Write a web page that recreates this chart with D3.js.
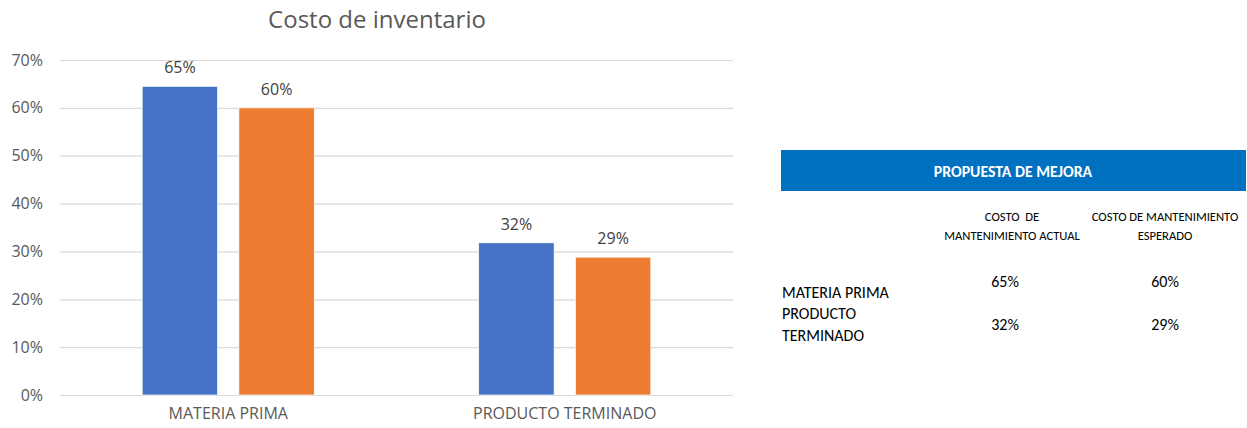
<!DOCTYPE html>
<html>
<head>
<meta charset="utf-8">
<script src="https://cdn.jsdelivr.net/npm/d3@7"></script>
<style>
  body { margin: 0; background: #fff; }
  svg { display: block; }
</style>
</head>
<body>
<svg id="chart" width="1247" height="428"></svg>
<script>
// chart data
var categories = ["MATERIA PRIMA", "PRODUCTO TERMINADO"];
var seriesNames = ["COSTO DE MANTENIMIENTO ACTUAL", "COSTO DE MANTENIMIENTO ESPERADO"];
var actual = [0.645, 0.318];
var esperado = [0.60, 0.288];
var yTicks = [0, 0.1, 0.2, 0.3, 0.4, 0.5, 0.6, 0.7];

// table text
var tableTitle = "PROPUESTA DE MEJORA";
var colHeaders = [["COSTO  DE", "MANTENIMIENTO ACTUAL"], ["COSTO DE MANTENIMIENTO", "ESPERADO"]];
var rowLabels = [["MATERIA PRIMA"], ["PRODUCTO", "TERMINADO"]];
var actualLabels = ["65%", "32%"];
var esperadoLabels = ["60%", "29%"];

var colors = ["#4472C4", "#ED7D31"];
var textColor = "#595959";
var font = "'Open Sans', sans-serif";
var tfont = "Carlito, Calibri, Lato, sans-serif";

var svg = d3.select("#chart");

var plot = { left: 60, right: 733, top: 60, bottom: 395 };

var x0 = d3.scaleBand().domain(categories).range([plot.left, plot.right]);
var x1 = d3.scaleBand().domain([0, 1]).range([0, x0.bandwidth()]).paddingInner(0.22).paddingOuter(0.85);
var y = d3.scaleLinear().domain([0, 0.7]).range([plot.bottom, plot.top]);

// title
svg.append("text")
  .attr("x", 377).attr("y", 28)
  .attr("text-anchor", "middle")
  .attr("font-family", font).attr("font-size", 24)
  .attr("fill", textColor)
  .text("Costo de inventario");

// gridlines
svg.append("g").selectAll("line").data(yTicks).enter().append("line")
  .attr("x1", plot.left).attr("x2", plot.right)
  .attr("y1", function (d) { return y(d) + 0.5; })
  .attr("y2", function (d) { return y(d) + 0.5; })
  .attr("stroke", "#D9D9D9").attr("stroke-width", 1.2);

// y axis
var yAxis = d3.axisLeft(y).tickValues(yTicks).tickFormat(d3.format(".0%")).tickSize(0).tickPadding(0);
var yg = svg.append("g").attr("transform", "translate(43,0)").call(yAxis);
yg.select(".domain").remove();
yg.selectAll("text").attr("font-family", font).attr("font-size", 16).attr("fill", textColor);

// x axis labels
var xAxis = d3.axisBottom(x0).tickSize(0).tickPadding(0);
var xg = svg.append("g").attr("transform", "translate(0,408)").call(xAxis);
xg.select(".domain").remove();
xg.selectAll("text").attr("font-family", font).attr("font-size", 16).attr("fill", textColor);

// bars
var rows = categories.map(function (c, i) { return { cat: c, vals: [actual[i], esperado[i]], labels: [actualLabels[i], esperadoLabels[i]] }; });

var groups = svg.append("g").selectAll("g").data(rows).enter().append("g")
  .attr("transform", function (d) { return "translate(" + x0(d.cat) + ",0)"; });

groups.selectAll("rect").data(function (d) { return d.vals; }).enter().append("rect")
  .attr("x", function (d, i) { return x1(i); })
  .attr("width", x1.bandwidth())
  .attr("y", function (d) { return y(d); })
  .attr("height", function (d) { return y(0) - y(d); })
  .attr("fill", function (d, i) { return colors[i]; })
  .attr("stroke", "#fff").attr("stroke-width", 0.7);

groups.selectAll("text.lbl").data(function (d) { return d.vals.map(function (v, i) { return { v: v, l: d.labels[i] }; }); })
  .enter().append("text").attr("class", "lbl")
  .attr("x", function (d, i) { return x1(i) + x1.bandwidth() / 2; })
  .attr("y", function (d) { return y(d.v) - 13; })
  .attr("text-anchor", "middle")
  .attr("font-family", font).attr("font-size", 16)
  .attr("fill", "#404040")
  .text(function (d) { return d.l; });

// table
var tbl = svg.append("g");
tbl.append("rect").attr("x", 781).attr("y", 150).attr("width", 465).attr("height", 41).attr("fill", "#0070C0");
tbl.append("text").attr("x", 1013).attr("y", 177).attr("text-anchor", "middle")
  .attr("font-family", tfont).attr("font-size", 15.8).attr("font-weight", "bold").attr("fill", "#fff")
  .text(tableTitle);

var colX = [1012, 1165];
colHeaders.forEach(function (lines, c) {
  lines.forEach(function (t, k) {
    tbl.append("text").attr("x", colX[c]).attr("y", 221 + k * 19).attr("text-anchor", "middle")
      .attr("font-family", tfont).attr("font-size", 12.6).attr("fill", "#000")
      .attr("xml:space", "preserve")
      .text(t);
  });
});

var rowLabelY = [[298], [319, 341]];
var valueY = [287, 330];
rowLabels.forEach(function (lines, r) {
  lines.forEach(function (t, k) {
    tbl.append("text").attr("x", 782).attr("y", rowLabelY[r][k])
      .attr("font-family", tfont).attr("font-size", 16).attr("fill", "#000")
      .text(t);
  });
  tbl.append("text").attr("x", colX[0] - 7).attr("y", valueY[r]).attr("text-anchor", "middle")
    .attr("font-family", tfont).attr("font-size", 16).attr("fill", "#000").text(actualLabels[r]);
  tbl.append("text").attr("x", colX[1]).attr("y", valueY[r]).attr("text-anchor", "middle")
    .attr("font-family", tfont).attr("font-size", 16).attr("fill", "#000").text(esperadoLabels[r]);
});
</script>
</body>
</html>
